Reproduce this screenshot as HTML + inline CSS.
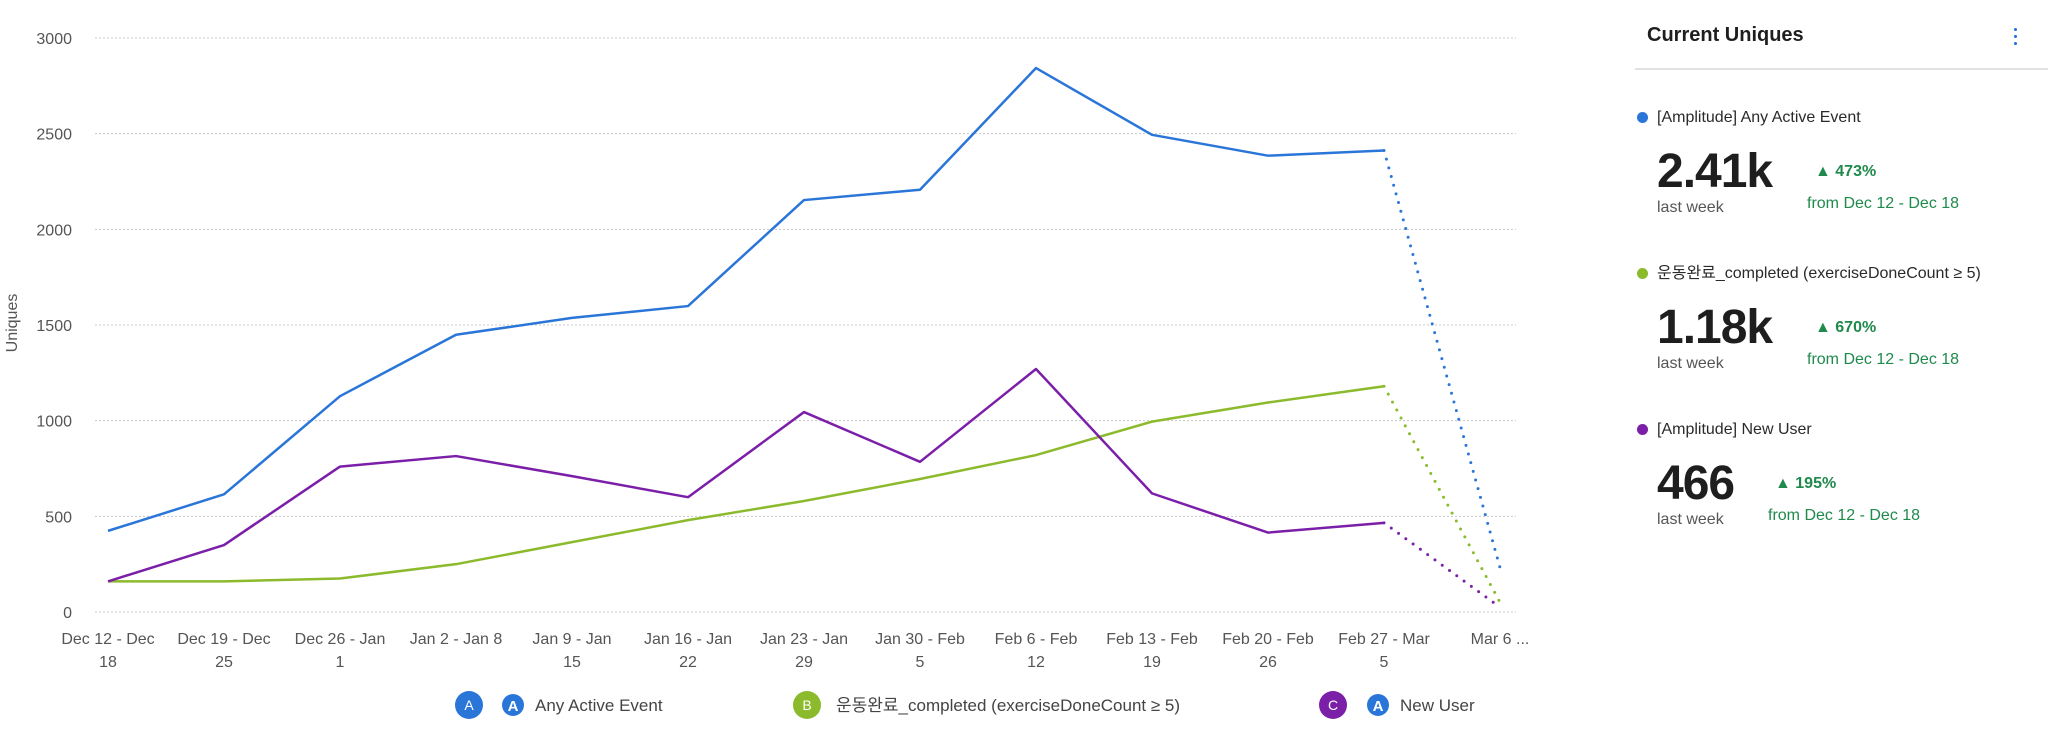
<!DOCTYPE html>
<html><head><meta charset="utf-8"><style>
body{margin:0;width:2048px;height:735px;background:#fff;font-family:"Liberation Sans","Noto Sans CJK KR",sans-serif;overflow:hidden;position:relative}
.panel{position:absolute;left:1635px;top:0;width:413px;height:735px}
.panel div{line-height:1}
.ttl{position:absolute;left:12px;top:25px;font-size:20px;font-weight:bold;color:#1e1e1e}
.dots{position:absolute;left:379px;top:28px;width:4px;color:#1f6fd8;font-size:20px;font-weight:bold}
.dots span{display:block;width:3px;height:3px;background:#1f6fd8;border-radius:50%;margin-bottom:4px}
.div{position:absolute;left:0;top:68px;width:413px;height:2px;background:#e2e2e2}
.ent{position:absolute;left:0;width:413px}
.ent .d{position:absolute;left:2px;top:0;width:11px;height:11px;border-radius:50%}
.ent .n{position:absolute;left:22px;top:-2px;font-size:16px;color:#2a2a2a;white-space:nowrap}
.ent .big{position:absolute;left:22px;top:36px;font-size:48px;font-weight:bold;color:#1e1e1e;letter-spacing:-1px}
.ent .lw{position:absolute;left:22px;top:88px;font-size:16px;color:#555}
.ent .pc{position:absolute;top:52px;font-size:16px;color:#1f8a4c;font-weight:bold}
.ent .fr{position:absolute;top:84px;font-size:16px;color:#1f8a4c;white-space:nowrap}
</style></head><body>
<svg id="chart" width="1560" height="735" style="position:absolute;left:0;top:0" font-family="Liberation Sans, Noto Sans CJK KR, sans-serif"></svg>
<div class="panel">
 <div class="ttl">Current Uniques</div>
 <div class="dots"><span></span><span></span><span></span></div>
 <div class="div"></div>
 <div class="ent" style="top:112px">
  <div class="d" style="background:#2a76d8"></div><div class="n">[Amplitude] Any Active Event</div>
  <div class="big">2.41k</div><div class="lw">last week</div>
  <div class="pc" style="left:180px">▲ 473%</div><div class="fr" style="left:172px">from Dec 12 - Dec 18</div>
 </div>
 <div class="ent" style="top:268px">
  <div class="d" style="background:#8cba2d"></div><div class="n">운동완료_completed (exerciseDoneCount ≥ 5)</div>
  <div class="big">1.18k</div><div class="lw">last week</div>
  <div class="pc" style="left:180px">▲ 670%</div><div class="fr" style="left:172px">from Dec 12 - Dec 18</div>
 </div>
 <div class="ent" style="top:424px">
  <div class="d" style="background:#7b1fa8"></div><div class="n">[Amplitude] New User</div>
  <div class="big">466</div><div class="lw">last week</div>
  <div class="pc" style="left:140px">▲ 195%</div><div class="fr" style="left:133px">from Dec 12 - Dec 18</div>
 </div>
</div>
<script>
const categories=[["Dec 12 - Dec","18"],["Dec 19 - Dec","25"],["Dec 26 - Jan","1"],["Jan 2 - Jan 8",""],["Jan 9 - Jan","15"],["Jan 16 - Jan","22"],["Jan 23 - Jan","29"],["Jan 30 - Feb","5"],["Feb 6 - Feb","12"],["Feb 13 - Feb","19"],["Feb 20 - Feb","26"],["Feb 27 - Mar","5"],["Mar 6 ...",""]];
const anyActive=[424,615,1128,1449,1537,1599,2153,2207,2843,2494,2385,2412,232];
const exercise=[160,160,175,250,365,480,580,695,820,995,1095,1180,50];
const newUser=[160,350,760,815,710,600,1045,785,1270,620,415,466,25];
const yTicks=[0,500,1000,1500,2000,2500,3000];
const NS="http://www.w3.org/2000/svg";
const svg=document.getElementById('chart');
const X0=108,DX=116,Y0=612,YS=(612-38)/3000;
const xs=i=>X0+i*DX, ys=v=>Y0-v*YS;
function mk(t,a){const e=document.createElementNS(NS,t);for(const k in a)e.setAttribute(k,a[k]);svg.appendChild(e);return e;}
yTicks.forEach(v=>{
 const g=mk('line',{x1:95,x2:1516,y1:ys(v),y2:ys(v),stroke:'#c8c8c8','stroke-dasharray':'2,2','stroke-width':1});
 
 
 const t=mk('text',{x:72,y:ys(v)+6,'text-anchor':'end','font-size':16,fill:'#555'});t.textContent=v;
 
 
});
const yt=mk('text',{x:0,y:0,transform:'translate(17,323) rotate(-90)','text-anchor':'middle','font-size':16,fill:'#555'});yt.textContent='Uniques';


categories.forEach((c,i)=>{
 c.forEach((s,j)=>{if(!s)return;const t=mk('text',{x:xs(i),y:644+j*23,'text-anchor':'middle','font-size':16,fill:'#555'});t.textContent=s;
 
 });
});
function series(d,col,name){
 const n=d.length;
 const p=d.slice(0,n-1).map((v,i)=>xs(i)+','+ys(v)).join(' ');
 const l=mk('polyline',{points:p,fill:'none',stroke:col,'stroke-width':2.5,'stroke-linejoin':'round'});
 
 
 const dl=mk('line',{x1:xs(n-2),y1:ys(d[n-2]),x2:xs(n-1),y2:ys(d[n-1]),stroke:col,'stroke-width':3,'stroke-dasharray':'0,9','stroke-linecap':'round'});
 
 
}
series(exercise,'#8cba2d','exercise-completed');
series(newUser,'#7b1fa8','new-user');
series(anyActive,'#2a76d8','any-active-event');
function legend(cx,letter,col,label,icon,tx,name){
 const c=mk('circle',{cx:cx,cy:705,r:14,fill:col});
 
 
 const l=mk('text',{x:cx,y:710,'text-anchor':'middle','font-size':14,fill:'#fff'});l.textContent=letter;
 if(icon){const ic=mk('circle',{cx:icon,cy:705,r:11,fill:'#2a76d8'});
 
 
 const it=mk('text',{x:icon,y:711,'text-anchor':'middle','font-size':15,fill:'#fff','font-weight':'bold'});it.textContent='A';}
 const t=mk('text',{x:tx,y:711,'font-size':17,fill:'#444'});t.textContent=label;
 
 
}
legend(469,'A','#2a76d8','Any Active Event',513,535,'any-active-event');
legend(807,'B','#8cba2d','운동완료_completed (exerciseDoneCount ≥ 5)',0,836,'exercise-completed');
legend(1333,'C','#7b1fa8','New User',1378,1400,'new-user');
</script>
</body></html>
